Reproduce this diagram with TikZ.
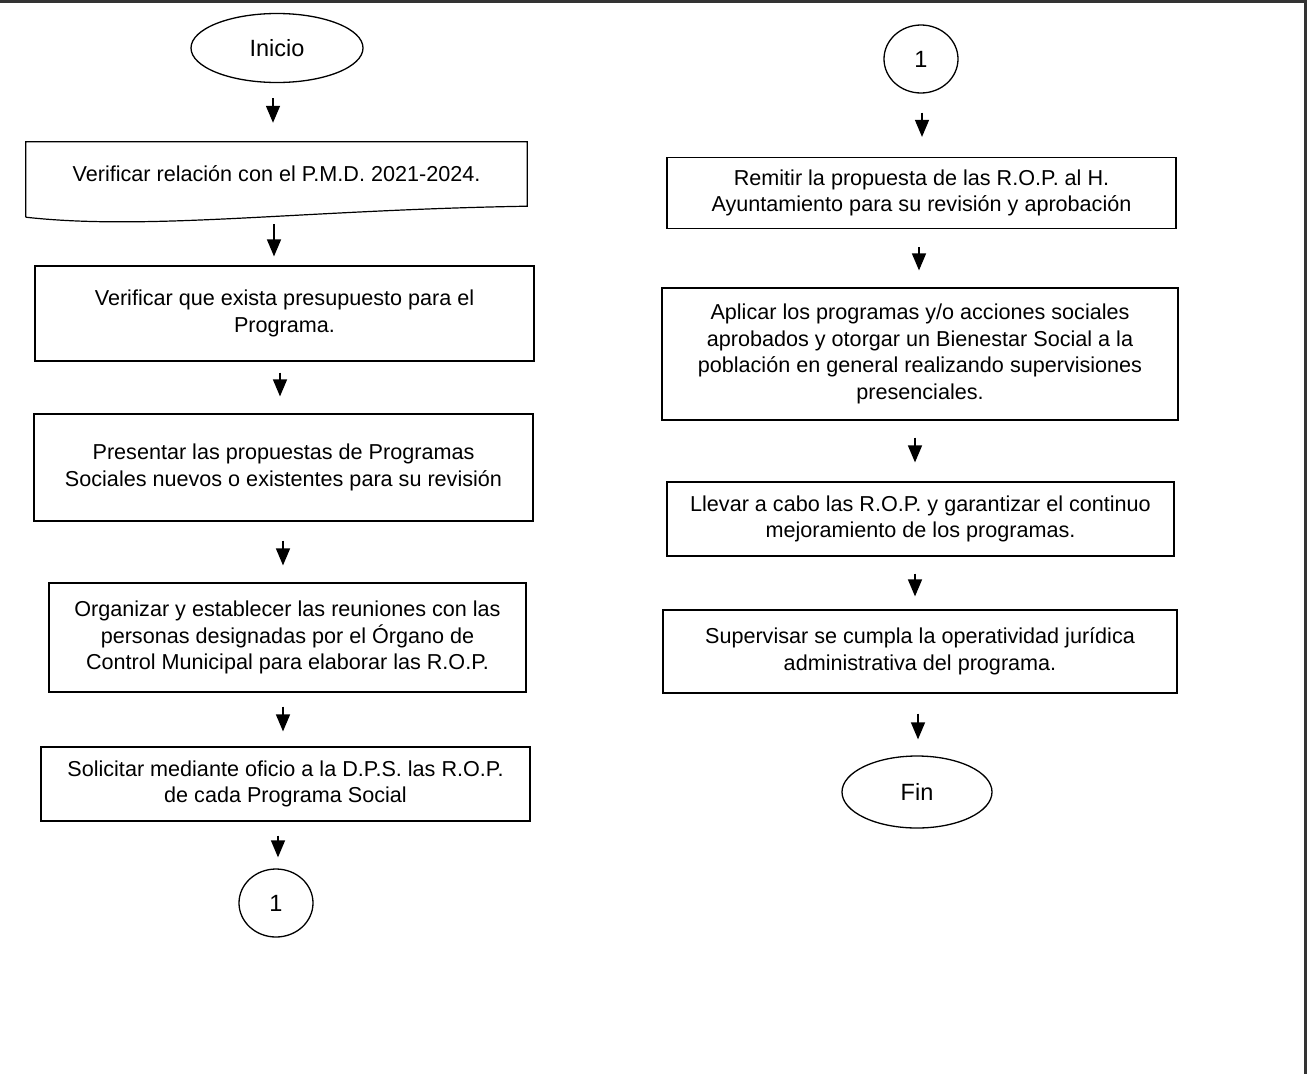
\documentclass[tikz,border=0pt]{standalone}
\usepackage{fontspec}
\setmainfont{Liberation Sans}
\usetikzlibrary{arrows.meta,shapes.geometric}
\begin{document}
\begin{tikzpicture}[x=1pt,y=-1pt,
  every node/.style={font=\fontsize{21.6}{26.5}\selectfont, align=center, inner sep=0pt},
  procbox/.style={draw, line width=1.2pt, rectangle},
  term/.style={draw, line width=1.3pt, ellipse, font=\fontsize{23.5}{26.5}\selectfont},
  arr/.style={line width=1.4pt, -{Triangle[width=14pt,length=17pt]}}
]
\useasboundingbox (0,0) rectangle (1314,1074);
\fill[white] (0,0) rectangle (1314,1074);
\draw[line width=3pt, black!80] (0,1.5) -- (1306,1.5);
\draw[line width=3pt, black!80] (1305,0) -- (1305,1074);

% left column
\node[term, minimum width=172pt, minimum height=69pt] (ini) at (277,48) {Inicio};
\node[minimum width=501pt, minimum height=64pt] (b1) at (276.5,174) {Verificar relación con el P.M.D. 2021-2024.};
\draw[line width=1.2pt] ([yshift=-11pt]b1.south west) -- (b1.north west) -- (b1.north east) -- (b1.south east)
  .. controls (300,210) and (150,231) .. ([yshift=-11pt]b1.south west);
\node[procbox, minimum width=499pt, minimum height=95pt] (b2) at (284.5,313.5) {Verificar que exista presupuesto para el\\Programa.};
\node[procbox, minimum width=499pt, minimum height=107pt] (b3) at (283.5,467.5) {Presentar las propuestas de Programas\\Sociales nuevos o existentes para su revisión};
\node[procbox, minimum width=477pt, minimum height=109pt] (b4) at (287.5,637.5) {Organizar y establecer las reuniones con las\\personas designadas por el Órgano de\\Control Municipal para elaborar las R.O.P.};
\node[procbox, minimum width=489pt, minimum height=74pt] (b5) at (285.5,784) {Solicitar mediante oficio a la D.P.S. las R.O.P.\\de cada Programa Social};
\node[term, minimum width=74pt, minimum height=68pt] (c1) at (276,903) {1};

% right column
\node[term, minimum width=74pt, minimum height=68pt] (c2) at (921,59) {1};
\node[procbox, minimum width=509pt, minimum height=71pt] (r1) at (921.5,193) {Remitir la propuesta de las R.O.P. al H.\\Ayuntamiento para su revisión y aprobación};
\node[procbox, minimum width=516pt, minimum height=132pt] (r2) at (920,354) {Aplicar los programas y/o acciones sociales\\aprobados y otorgar un Bienestar Social a la\\población en general realizando supervisiones\\presenciales.};
\node[procbox, minimum width=507pt, minimum height=74pt] (r3) at (920.5,519) {Llevar a cabo las R.O.P. y garantizar el continuo\\mejoramiento de los programas.};
\node[procbox, minimum width=514pt, minimum height=83pt] (r4) at (920,651.5) {Supervisar se cumpla la operatividad jurídica\\administrativa del programa.};
\node[term, minimum width=150pt, minimum height=72pt] (fin) at (917,792) {Fin};

% arrows (free-standing, shortened between nodes)
\draw[arr, shorten <=15pt, shorten >=19pt] ([xshift=-4pt]ini.south) -- ([xshift=-4pt]ini.south |- b1.north);
\draw[arr, shorten <=18pt, shorten >=9pt] ([xshift=-2.5pt]b1.south) -- ([xshift=-2.5pt]b1.south |- b2.north);
\draw[arr, shorten <=11pt, shorten >=17pt] ([xshift=-4.5pt]b2.south) -- ([xshift=-4.5pt]b2.south |- b3.north);
\draw[arr, shorten <=19pt, shorten >=17pt] ([xshift=-0.5pt]b3.south) -- ([xshift=-0.5pt]b3.south |- b4.north);
\draw[arr, shorten <=14pt, shorten >=15pt] ([xshift=-4.5pt]b4.south) -- ([xshift=-4.5pt]b4.south |- b5.north);
\draw[arr, shorten <=14pt, shorten >=11pt] ([xshift=-7.5pt]b5.south) -- ([xshift=-7.5pt]b5.south |- c1.north);

\draw[arr, shorten <=19pt, shorten >=20pt] ([xshift=1pt]c2.south) -- ([xshift=1pt]c2.south |- r1.north);
\draw[arr, shorten <=18pt, shorten >=17pt] ([xshift=-2.5pt]r1.south) -- ([xshift=-2.5pt]r1.south |- r2.north);
\draw[arr, shorten <=17pt, shorten >=19pt] ([xshift=-5pt]r2.south) -- ([xshift=-5pt]r2.south |- r3.north);
\draw[arr, shorten <=17pt, shorten >=13pt] ([xshift=-5.5pt]r3.south) -- ([xshift=-5.5pt]r3.south |- r4.north);
\draw[arr, shorten <=20pt, shorten >=16pt] ([xshift=-2pt]r4.south) -- ([xshift=-2pt]r4.south |- fin.north);
\end{tikzpicture}
\end{document}
